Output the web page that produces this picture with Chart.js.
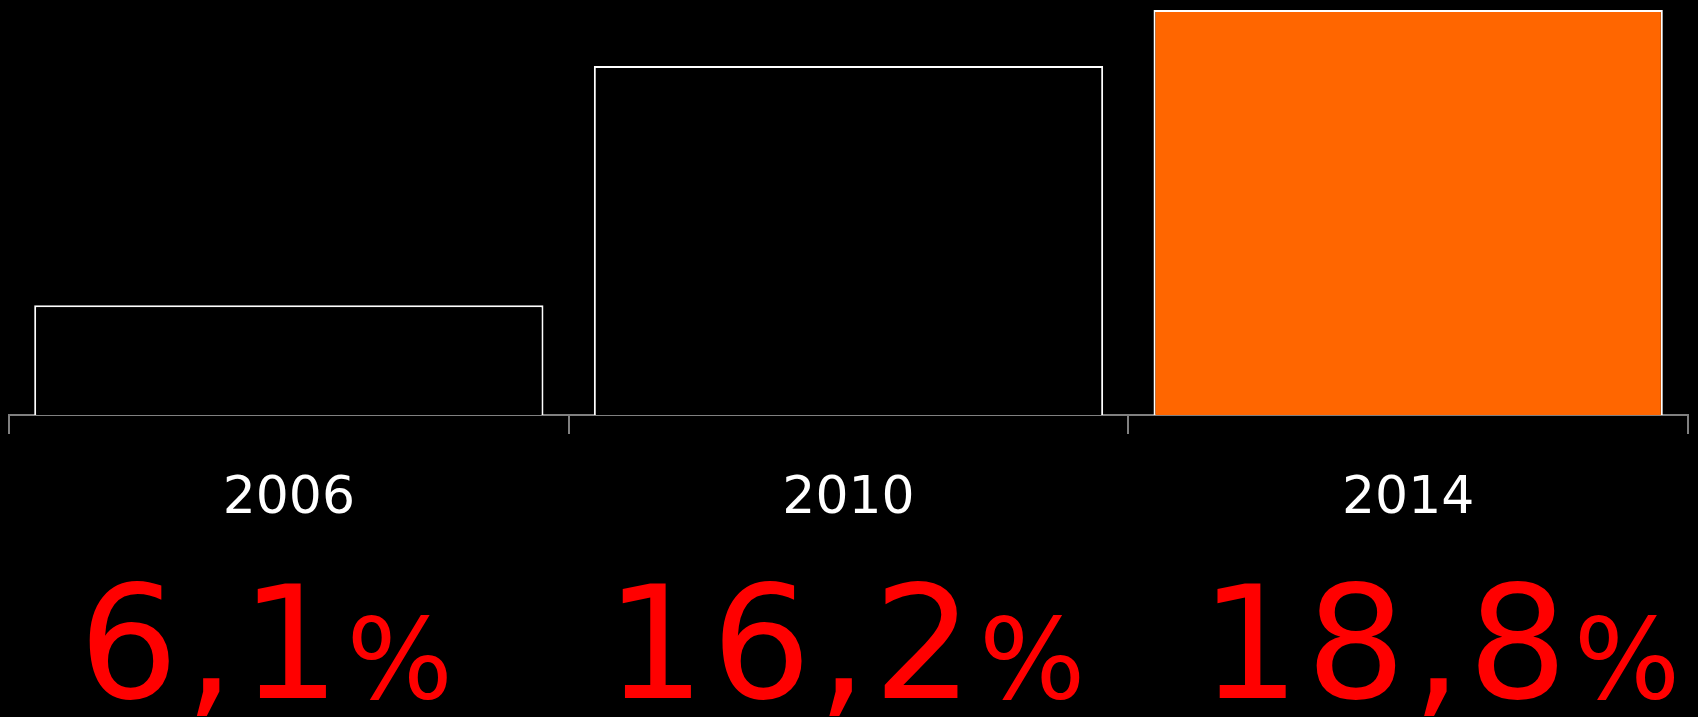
<!DOCTYPE html>
<html>
<head>
<meta charset="utf-8">
<script src="https://cdn.jsdelivr.net/npm/chart.js@4"></script>
<style>
  html, body { margin: 0; padding: 0; background: #000; }
  #wrap { width: 1698px; height: 717px; }
</style>
</head>
<body>
<div id="wrap"><canvas id="graph"></canvas></div>
<script>
const years = ['2006', '2010', '2014'];
const barHeights = [5.1, 16.2, 18.8];
const shareLabels = ['6,1', '16,2', '18,8'];
const barColors = ['#000000', '#000000', '#FF6600'];

// big red percentages under the year labels
const shareText = {
    id: 'shareText',
    afterDraw(chart, args, opts) {
        const ctx = chart.ctx;
        const x = chart.scales.x;
        ctx.save();
        ctx.fillStyle = '#FF0000';
        ctx.textBaseline = 'alphabetic';
        ctx.textAlign = 'left';
        ctx.letterSpacing = '6px';
        shareLabels.forEach((txt, i) => {
            ctx.font = '157px "DejaVu Sans"';
            const w1 = ctx.measureText(txt).width;
            ctx.font = '112px "DejaVu Sans"';
            const w2 = ctx.measureText('%').width;
            const cx = x.getPixelForValue(i) + opts.shift[i];
            const left = cx - (w1 + w2) / 2;
            ctx.font = '157px "DejaVu Sans"';
            ctx.fillText(txt, left, 698);
            ctx.font = '112px "DejaVu Sans"';
            ctx.fillText('%', left + w1, 698);
        });
        ctx.restore();
    }
};

const config = {
    type: 'bar',
    data: {
        labels: years,
        datasets: [{
            data: barHeights,
            backgroundColor: barColors,
            borderColor: '#FFFFFF',
            borderWidth: 2,
            borderSkipped: 'bottom',
            barPercentage: 0.91,
            categoryPercentage: 1
        }]
    },
    options: {
        responsive: true,
        maintainAspectRatio: false,
        animation: false,
        layout: { padding: { left: 9, right: 10, top: 10, bottom: 0 } },
        scales: {
            x: {
                afterFit(scale) { scale.height = 302; },
                grid: {
                    offset: true,
                    drawOnChartArea: false,
                    drawTicks: true,
                    tickLength: 19,
                    color: '#808080',
                    lineWidth: 2
                },
                border: { display: true, color: '#808080', width: 2 },
                ticks: {
                    color: '#FFFFFF',
                    padding: 34,
                    font: { family: 'DejaVu Sans', size: 52 }
                }
            },
            y: {
                display: false,
                min: 0,
                max: 18.8
            }
        },
        plugins: {
            legend: { display: false },
            tooltip: { enabled: false },
            shareText: { shift: [-20, 0, 35] }
        }
    },
    plugins: [shareText]
};

const myChart = new Chart(document.getElementById('graph'), config);
</script>
</body>
</html>
